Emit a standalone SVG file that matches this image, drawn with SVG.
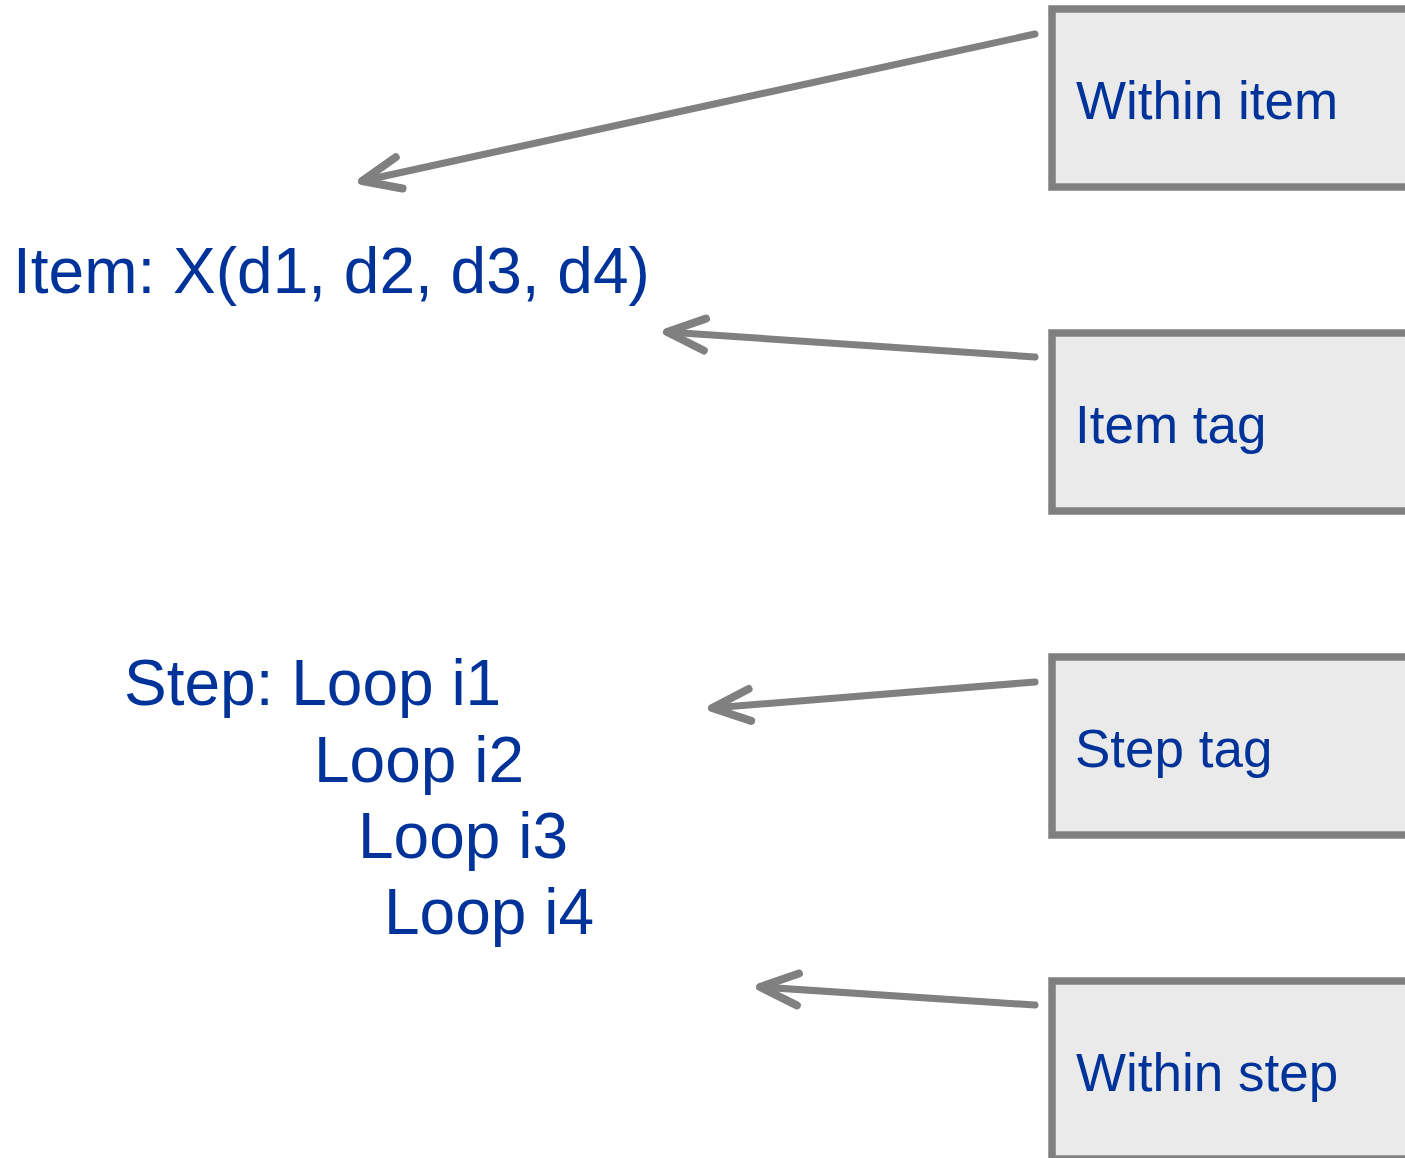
<svg xmlns="http://www.w3.org/2000/svg" width="1405" height="1158" viewBox="0 0 1405 1158">
<style>
.box{fill:#EAEAEA;stroke:#808080;stroke-width:7.5}
.lbl{font-family:"Liberation Sans",Arial,sans-serif;font-size:53px;fill:#003399}
.big{font-family:"Liberation Sans",Arial,sans-serif;font-size:64px;fill:#003399}
.conn{stroke:#808080;stroke-width:7;fill:none;stroke-linecap:round;marker-end:url(#arr)}
</style>
<defs>
<marker id="arr" markerUnits="userSpaceOnUse" viewBox="-50 -25 60 50" refX="0" refY="0" markerWidth="60" markerHeight="50" orient="auto" overflow="visible">
<path d="M -38,-16 L 0,0 L -38,16" fill="none" stroke="#808080" stroke-width="8" stroke-linecap="round" stroke-linejoin="round"/>
</marker>
</defs>
<rect width="1405" height="1158" fill="#FFFFFF"/>
<g id="connectors">
<line class="conn" x1="1035" y1="34" x2="362" y2="181"/>
<line class="conn" x1="1035" y1="357" x2="667" y2="332"/>
<line class="conn" x1="1035" y1="682" x2="712" y2="708"/>
<line class="conn" x1="1035" y1="1005" x2="760" y2="987"/>
</g>
<g id="item-text">
<text class="big" x="13" y="293">Item: X(d1, d2, d3, d4)</text>
</g>
<g id="step-text">
<text class="big" x="124" y="705">Step: Loop i1</text>
<text class="big" x="314" y="782">Loop i2</text>
<text class="big" x="358" y="858">Loop i3</text>
<text class="big" x="384" y="934">Loop i4</text>
</g>
<g id="within-item">
<rect class="box" x="1052" y="9" width="400" height="178"/>
<text class="lbl" x="1076" y="119">Within item</text>
</g>
<g id="item-tag">
<rect class="box" x="1052" y="333" width="400" height="178"/>
<text class="lbl" x="1075" y="443">Item tag</text>
</g>
<g id="step-tag">
<rect class="box" x="1052" y="657" width="400" height="178"/>
<text class="lbl" x="1075" y="767">Step tag</text>
</g>
<g id="within-step">
<rect class="box" x="1052" y="981" width="400" height="178"/>
<text class="lbl" x="1076" y="1091">Within step</text>
</g>
</svg>
